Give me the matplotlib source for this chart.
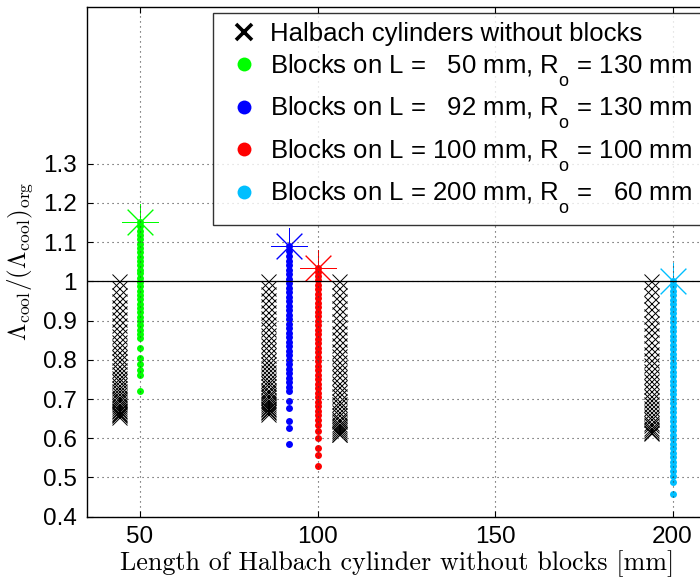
import matplotlib
matplotlib.use("Agg")
import matplotlib.pyplot as plt
from matplotlib.lines import Line2D

try:
    import matplotlib._mathtext as _mt
    _mt.FontConstantsBase.sub1 = 0.95
except Exception:
    pass

plt.rcParams['font.family'] = ['Liberation Sans', 'DejaVu Sans']
plt.rcParams['mathtext.fontset'] = 'custom'
plt.rcParams['mathtext.rm'] = 'Liberation Sans'
plt.rcParams['mathtext.it'] = 'Liberation Sans:italic'

# ---- data ----
# Halbach cylinders without blocks: length [mm] and ratio values
plain_L = [44, 86, 106, 194]
plain_44 = [1.000, 0.983, 0.966, 0.950, 0.934, 0.918, 0.903, 0.888, 0.874, 0.860,
            0.846, 0.833, 0.820, 0.808, 0.796, 0.785, 0.774, 0.764, 0.754, 0.745,
            0.736, 0.728, 0.720, 0.713, 0.706, 0.700, 0.694, 0.688, 0.683, 0.678,
            0.673, 0.669, 0.665, 0.661, 0.658, 0.655]
plain_86 = [1.000, 0.984, 0.968, 0.952, 0.937, 0.922, 0.907, 0.892, 0.878, 0.864,
            0.850, 0.837, 0.824, 0.812, 0.800, 0.789, 0.778, 0.768, 0.758, 0.749,
            0.740, 0.732, 0.724, 0.717, 0.710, 0.704, 0.698, 0.692, 0.687, 0.682,
            0.678, 0.674, 0.670, 0.666, 0.662]
plain_106 = [1.000, 0.983, 0.966, 0.949, 0.932, 0.916, 0.900, 0.884, 0.868, 0.853,
             0.838, 0.823, 0.809, 0.795, 0.781, 0.768, 0.755, 0.742, 0.730, 0.718,
             0.707, 0.696, 0.686, 0.676, 0.667, 0.658, 0.650, 0.643, 0.636, 0.630,
             0.625, 0.620, 0.616, 0.612, 0.610]
plain_194 = [1.000, 0.982, 0.964, 0.946, 0.929, 0.912, 0.895, 0.878, 0.862, 0.846,
             0.830, 0.815, 0.800, 0.786, 0.772, 0.758, 0.745, 0.732, 0.720, 0.708,
             0.697, 0.686, 0.676, 0.666, 0.657, 0.648, 0.640, 0.633, 0.626, 0.620,
             0.617, 0.614]
plain_vals = [plain_44, plain_86, plain_106, plain_194]

# Halbach cylinders with blocks
block_L = [50, 92, 100, 200]
block_50 = [0.721, 0.762, 0.775, 0.790, 0.805, 0.830, 0.855, 0.865, 0.877, 0.888,
            0.898, 0.910, 0.921, 0.931, 0.943, 0.954, 0.964, 0.976, 0.987, 0.997,
            1.009, 1.020, 1.030, 1.042, 1.053, 1.063, 1.075, 1.086, 1.096, 1.108,
            1.119, 1.129, 1.141, 1.152]
block_92 = [0.586, 0.626, 0.645, 0.677, 0.695, 0.720, 0.731, 0.743, 0.754, 0.766,
            0.777, 0.789, 0.800, 0.812, 0.823, 0.835, 0.846, 0.858, 0.869, 0.881,
            0.892, 0.904, 0.915, 0.927, 0.938, 0.950, 0.961, 0.973, 0.984, 0.996,
            1.007, 1.019, 1.030, 1.042, 1.053, 1.065, 1.076, 1.090]
block_100 = [0.530, 0.558, 0.576, 0.600, 0.618, 0.635, 0.646, 0.658, 0.669, 0.681,
             0.692, 0.704, 0.715, 0.727, 0.738, 0.750, 0.761, 0.773, 0.784, 0.796,
             0.807, 0.819, 0.830, 0.842, 0.853, 0.865, 0.876, 0.888, 0.899, 0.911,
             0.922, 0.934, 0.945, 0.957, 0.968, 0.980, 0.991, 1.003, 1.014, 1.025,
             1.035]
block_200 = [0.458, 0.488, 0.505, 0.516, 0.528, 0.539, 0.551, 0.562, 0.574, 0.585,
             0.597, 0.608, 0.620, 0.631, 0.643, 0.654, 0.666, 0.677, 0.689, 0.700,
             0.712, 0.723, 0.735, 0.746, 0.758, 0.769, 0.781, 0.792, 0.804, 0.815,
             0.827, 0.838, 0.850, 0.861, 0.873, 0.884, 0.896, 0.907, 0.919, 0.930,
             0.942, 0.953, 0.965, 0.976, 0.988, 1.000]
block_vals = [block_50, block_92, block_100, block_200]
block_colors = ['#00ff00', '#0000ff', '#ff0000', '#00bfff']
legend_labels = ['Halbach cylinders without blocks',
                 r'Blocks on L =   50 mm, R$_\mathrm{o}$ = 130 mm',
                 r'Blocks on L =   92 mm, R$_\mathrm{o}$ = 130 mm',
                 r'Blocks on L = 100 mm, R$_\mathrm{o}$ = 100 mm',
                 r'Blocks on L = 200 mm, R$_\mathrm{o}$ =   60 mm']
xticks = [50, 100, 150, 200]
yticks = [0.4, 0.5, 0.6, 0.7, 0.8, 0.9, 1.0, 1.1, 1.2, 1.3]
ytick_labels = ['0.4', '0.5', '0.6', '0.7', '0.8', '0.9', '1', '1.1', '1.2', '1.3']

# ---- figure ----
W, H = 700, 580
fig = plt.figure(figsize=(W / 100, H / 100), dpi=100)
ax = fig.add_axes([86.7 / W, (H - 516.7) / H, 621.4 / W, 510.0 / H])

for L, vals in zip(plain_L, plain_vals):
    ax.plot([L] * len(vals), vals, linestyle='none', marker='x', color='k',
            markersize=10.8, markeredgewidth=0.7, zorder=2)

for L, vals, c in zip(block_L, block_vals, block_colors):
    ax.plot([L] * len(vals), vals, linestyle='none', marker='o', color=c,
            markersize=5, markeredgewidth=0, zorder=2)
    ax.plot([L], [max(vals)], linestyle='none', marker=(8, 2, 0), color=c,
            markersize=26, markeredgewidth=0.7, zorder=2)

ax.axhline(1.0, color='k', linewidth=0.9, zorder=3)

ax.set_xlim(35, 210)
ax.set_ylim(0.4, 1.7)
ax.set_xticks(xticks)
ax.set_xticklabels([str(t) for t in xticks])
ax.set_yticks(yticks)
ax.set_yticklabels(ytick_labels)
ax.tick_params(direction='in', top=True, right=True, length=4, width=0.8,
               labelsize=17.5, pad=7)
ax.set_axisbelow(False)
ax.grid(True, linestyle=(0, (1, 3.5)), color='0.25', linewidth=0.8)
for s in ax.spines.values():
    s.set_linewidth(1.0)

ax.set_xlabel('Length of Halbach cylinder without blocks [mm]', fontfamily='cmr10',
              fontsize=18.8, labelpad=1)
ax.set_ylabel(r'$\Lambda_{\rm cool}/(\Lambda_{\rm cool})_{\rm org}$',
              math_fontfamily='cm', fontsize=18, labelpad=6)

handles = [Line2D([], [], linestyle='none', marker='x', color='k', markersize=11,
                  markeredgewidth=2.6)]
for c in block_colors:
    handles.append(Line2D([], [], linestyle='none', marker='o', color=c,
                          markersize=10, markeredgewidth=0))
leg = fig.legend(handles, legend_labels, loc='upper left',
                 bbox_to_anchor=(212.7 / W, 1 - 13.3 / H), fontsize=18.5,
                 frameon=True, fancybox=False, borderpad=0.35, handlelength=1.74,
                 handletextpad=0.15, labelspacing=0.24, borderaxespad=0)
leg.get_frame().set_edgecolor('k')
leg.get_frame().set_linewidth(1.0)

fig.savefig('out.png', dpi=100)
